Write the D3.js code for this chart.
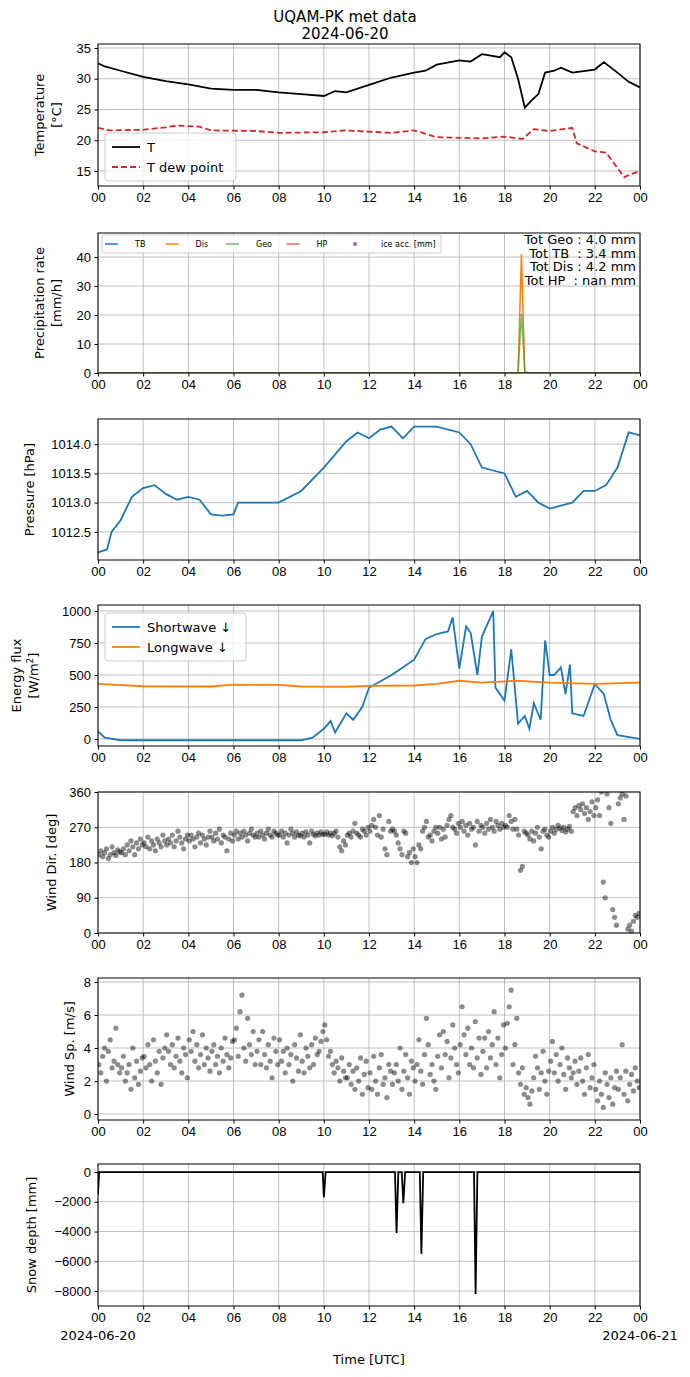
<!DOCTYPE html>
<html><head><meta charset="utf-8">
<script src="https://cdn.jsdelivr.net/npm/d3@7"></script>
<style>body{margin:0;background:#fff}svg{font-family:"DejaVu Sans",sans-serif}</style>
</head><body><svg id="fig" width="690" height="1377"></svg>
<script>
// hours since 2024-06-20 00:00 UTC
const tempT = [[0,32.5],[0.3,32],[1,31.3],[2,30.3],[3,29.6],[4,29.1],[5,28.4],[6,28.2],[7,28.2],[8,27.8],[9,27.5],[10,27.2],[10.5,28],[11,27.8],[12,29],[13,30.2],[14,31],[14.5,31.3],[15,32.3],[16,33],[16.5,32.8],[17,34],[17.8,33.5],[18,34.3],[18.3,33.5],[18.6,30],[18.9,25.3],[19.2,26.5],[19.5,27.5],[19.8,31],[20.2,31.3],[20.5,31.8],[21,31],[22,31.5],[22.4,32.7],[23,31],[23.5,29.5],[24,28.6]];
const tempTd = [[0,22],[0.5,21.6],[2,21.7],[3,22.1],[3.5,22.4],[4.5,22.2],[5,21.6],[7,21.5],[8,21.2],[10,21.3],[11,21.6],[13,21.2],[14,21.6],[15,20.5],[17,20.3],[18,20.6],[18.8,20.2],[19.3,21.8],[20,21.5],[21,22],[21.2,19.5],[22,18.2],[22.5,18],[23,15.5],[23.3,14],[23.6,14.5],[24,15]];
const precipTB = [[0,0],[24,0]];
const precipDis = [[0,0],[18.6,0],[18.75,41],[18.9,0],[24,0]];
const precipGeo = [[0,0],[18.6,0],[18.75,20.5],[18.9,0.5],[19.1,0],[24,0]];
const precipTotals = ["Tot Geo : 4.0 mm","Tot TB  : 3.4 mm","Tot Dis : 4.2 mm","Tot HP  : nan mm"];
const pressure = [[0,1012.15],[0.4,1012.2],[0.6,1012.5],[1,1012.7],[1.5,1013.1],[2,1013.25],[2.5,1013.3],[3,1013.15],[3.5,1013.05],[4,1013.1],[4.5,1013.05],[5,1012.8],[5.5,1012.78],[6,1012.8],[6.2,1013.0],[7,1013.0],[8,1013.0],[9,1013.2],[10,1013.6],[11,1014.05],[11.5,1014.2],[12,1014.1],[12.5,1014.25],[13,1014.3],[13.5,1014.1],[14,1014.3],[15,1014.3],[16,1014.2],[16.5,1014.0],[17,1013.6],[18,1013.5],[18.5,1013.1],[19,1013.2],[19.5,1013.0],[20,1012.9],[21,1013.0],[21.5,1013.2],[22,1013.2],[22.5,1013.3],[23,1013.6],[23.5,1014.2],[24,1014.15]];
const shortwave = [[0,60],[0.3,10],[1,-10],[9,-10],[9.5,10],[10,80],[10.3,140],[10.5,50],[11,200],[11.3,150],[11.7,250],[12,400],[13,500],[14,620],[14.5,780],[15,820],[15.5,840],[15.7,950],[16,550],[16.3,880],[16.5,830],[16.8,500],[17,800],[17.5,1000],[17.6,400],[18,300],[18.3,700],[18.6,120],[18.9,180],[19.1,80],[19.3,280],[19.6,150],[19.8,770],[20,500],[20.2,500],[20.5,560],[20.7,350],[20.9,580],[21,200],[21.5,180],[22,430],[22.4,350],[22.7,150],[23,30],[24,0]];
const longwave = [[0,430],[2,412],[5,410],[6,425],[8,422],[9,410],[11,408],[12,415],[14,418],[15,430],[16,455],[17,440],[18.5,455],[20,440],[22,430],[24,440]];
const windDir = [
[200,210,195,205,215,190,200,220,205,198,212,207],[205,215,200,225,210,235,220,200,230,215,240,225],
[230,220,245,215,235,225,210,240,230,220,250,235],[225,240,230,250,220,235,260,245,230,215,240,250],
[235,250,240,220,245,255,230,250,240,225,245,260],[245,235,255,240,265,230,250,245,210,240,255,235],
[250,260,240,255,245,260,250,235,255,265,250,245],[255,245,260,250,240,255,265,250,245,260,255,250],
[250,260,245,255,230,250,265,255,245,258,250,248],[255,245,258,250,230,260,252,248,256,250,258,252],
[252,258,250,255,248,255,260,245,220,210,235,225],[250,255,245,260,280,255,250,245,265,260,250,270],
[260,275,290,270,250,300,245,265,215,200,285,260],[265,260,250,230,215,200,260,255,195,205,180,215],
[195,180,225,215,260,270,285,245,250,235,260,270],[255,270,240,265,245,275,290,300,270,265,255,280],
[270,285,260,275,250,280,265,270,225,285,260,275],[270,255,280,265,290,270,260,285,275,265,280,270],
[275,270,300,285,265,290,265,250,160,170,260,255],[250,240,260,235,255,270,245,215,260,265,250,245],
[260,270,255,265,275,268,262,270,258,265,272,260],[310,320,300,325,315,330,305,320,290,310,335,300],
[320,340,300,360,130,90,355,320,280,60,40,20],[330,345,355,290,350,10,20,5,30,45,40,50]];
const windSp = [
[3,2.5,3.5,4,2,3.8,4.5,2.8,3.2,5.2,3,2.5],[2.8,3.5,2,2.5,3,1.5,4,2.2,3.2,1.8,2.6,3.4],
[3.5,2.8,4.2,3,2,4.5,3.2,2.5,3.8,1.8,3.4,4],[4.8,3.8,3,4.2,2.8,3.5,4.6,3.2,2.5,4,3.6,2.2],
[4.5,3.8,5,3.2,4.2,2.8,3.6,4.8,3,4,3.4,2.6],[3.8,4.2,3,3.5,2.5,4,3.2,4.6,3.6,2.8,3.4,4.4],
[4.5,5.2,3.5,6.2,7.2,4,3.2,5.8,4.2,3.6,5,3],[3.8,4.5,3,5,3.6,2.8,4.2,3.2,2.2,4.6,3.8,3],
[4.5,3.2,3.8,2.5,4,3,3.6,2,4.2,3.4,2.6,4.8],[3.2,2.5,4,3.5,2.8,4.2,3,4.6,3.6,3.8,4.4,5],
[5.4,4.5,3.5,3.8,3,2.5,3.2,2.8,2,3.4,2.6,2.2],[2.2,3,1.8,2.6,1.5,2.8,2,3.4,1.2,2.4,3.2,1.6],
[2.5,1.5,3.5,2,1.2,2.8,3.6,1.8,2.2,1,3,2.6],[1.8,2.5,3,2,4,1.5,2.6,3.6,2.2,1.2,3.2,2.8],
[2,3,4.5,2.6,1.8,3.6,5.8,4.2,2.4,3,2,1.5],[3.5,4.8,2.8,5,3.6,4.4,2.2,3.4,5.4,4,3,2.5],
[4.2,6.5,4.8,3.6,5.2,3,4,2.8,5.6,3.4,4.6,2.4],[3.8,4.6,2.8,5,3.4,4.2,6.2,3,4.6,2.2,3.6,5.4],
[4,5.5,6.5,7.5,3,4.2,5.8,2.5,1.8,2.8,1.2,1.6],[1,0.6,1.4,2.2,3.5,2.8,1.5,2.5,3.8,2,1.2,2.6],
[3.2,4.4,2.5,3.6,2,3,4,2.4,1.5,3.4,2.8,2.2],[2.5,3.2,1.8,2.6,3.4,2,1.2,2.8,3.6,1.6,2.2,3],
[1.5,0.8,2,1.2,0.4,2.5,1.8,1,2.2,0.6,1.6,2.6],[1.5,2.2,4.2,1.2,2.6,0.8,1.8,2.4,1.4,2.8,2,1.6]];
const snowDepth = [[0,-1500],[0.05,0],[9.95,0],[10.0,-1700],[10.08,0],[13.15,0],[13.22,-4100],[13.3,0],[13.45,0],[13.52,-2100],[13.6,0],[14.25,0],[14.32,-5500],[14.4,0],[16.65,0],[16.72,-8200],[16.8,0],[24,0]];
const xTickLabels = ["00","02","04","06","08","10","12","14","16","18","20","22","00"];

const svg = d3.select('#fig');
const L = 98, R = 640;
const x = d3.scaleLinear().domain([0, 24]).range([L, R]);

// title
svg.append('text').attr('x', 345).attr('y', 22).attr('text-anchor', 'middle').attr('font-size', 15).text('UQAM-PK met data');
svg.append('text').attr('x', 345).attr('y', 39).attr('text-anchor', 'middle').attr('font-size', 15).text('2024-06-20');

function panel(top, bottom, domain, ticks, fmt, ylabel, labelX) {
  const y = d3.scaleLinear().domain(domain).range([bottom, top]);
  const g = svg.append('g');
  // grid
  g.selectAll('.gx').data(d3.range(0, 25, 2)).enter().append('line')
    .attr('x1', d => x(d)).attr('x2', d => x(d)).attr('y1', top).attr('y2', bottom)
    .attr('stroke', '#b0b0b0').attr('stroke-width', 0.8);
  g.selectAll('.gy').data(ticks).enter().append('line')
    .attr('x1', L).attr('x2', R).attr('y1', d => y(d)).attr('y2', d => y(d))
    .attr('stroke', '#b0b0b0').attr('stroke-width', 0.8);
  const ax = g.append('g').attr('transform', `translate(0,${bottom})`)
    .call(d3.axisBottom(x).tickValues(d3.range(0, 25, 2)).tickFormat((d, i) => xTickLabels[i]).tickSize(3.5).tickPadding(3.5));
  const ay = g.append('g').attr('transform', `translate(${L},0)`)
    .call(d3.axisLeft(y).tickValues(ticks).tickFormat(fmt).tickSize(3.5).tickPadding(3.5));
  [ax, ay].forEach(a => { a.select('.domain').remove(); a.selectAll('text').attr('font-size', 13).attr('fill', '#000'); a.selectAll('line').attr('stroke', '#000'); });
  const cy = (top + bottom) / 2;
  const lt = svg.append('text').attr('transform', `translate(${labelX},${cy}) rotate(-90)`).attr('text-anchor', 'middle').attr('font-size', 13);
  ylabel.forEach((s, i) => lt.append('tspan').attr('x', 0).attr('dy', i ? 17 : (ylabel.length > 1 ? -8.5 : 0) + 4).html(s));
  const clip = 'c' + top;
  svg.append('clipPath').attr('id', clip).append('rect').attr('x', L).attr('y', top).attr('width', R - L).attr('height', bottom - top);
  const plot = svg.append('g').attr('clip-path', `url(#${clip})`);
  const frame = () => svg.append('rect').attr('x', L).attr('y', top).attr('width', R - L).attr('height', bottom - top).attr('fill', 'none').attr('stroke', '#000').attr('stroke-width', 1);
  return { y, plot, frame };
}
const line = (y) => d3.line().x(d => x(d[0])).y(d => y(d[1]));

// 1 temperature
let p = panel(44, 186, [12.56, 35.65], [15, 20, 25, 30, 35], d3.format('d'), ['Temperature', '[°C]'], 48);
p.plot.append('path').datum(tempT).attr('d', line(p.y)).attr('fill', 'none').attr('stroke', '#000').attr('stroke-width', 1.8);
p.plot.append('path').datum(tempTd).attr('d', line(p.y)).attr('fill', 'none').attr('stroke', '#d62728').attr('stroke-width', 1.8).attr('stroke-dasharray', '6,3');
p.frame();
function legend(x0, y0, w, items, fs, sp, lw) {
  svg.append('rect').attr('x', x0).attr('y', y0).attr('width', w).attr('height', items.length * sp + 8).attr('rx', 3)
    .attr('fill', '#fff').attr('fill-opacity', 0.8).attr('stroke', '#ccc');
  items.forEach((it, i) => {
    const yy = y0 + 4 + sp * (i + 0.5);
    svg.append('line').attr('x1', x0 + 7).attr('x2', x0 + 7 + lw).attr('y1', yy).attr('y2', yy)
      .attr('stroke', it.c).attr('stroke-width', 1.8).attr('stroke-dasharray', it.dash || null);
    svg.append('text').attr('x', x0 + 14 + lw).attr('y', yy + fs * 0.36).attr('font-size', fs).text(it.t);
  });
}
legend(105, 133, 131, [{ t: 'T', c: '#000' }, { t: 'T dew point', c: '#d62728', dash: '6,3' }], 13, 20, 28);

// 2 precipitation
p = panel(233, 373, [0, 48.3], [0, 10, 20, 30, 40], d3.format('d'), ['Precipitation rate', '[mm/h]'], 48);
p.plot.append('path').datum(precipTB).attr('d', line(p.y)).attr('fill', 'none').attr('stroke', '#1f77b4').attr('stroke-width', 1.5);
p.plot.append('path').datum(precipDis).attr('d', line(p.y)).attr('fill', 'none').attr('stroke', '#ff7f0e').attr('stroke-width', 1.5);
p.plot.append('path').datum(precipGeo).attr('d', line(p.y)).attr('fill', 'none').attr('stroke', '#2ca02c').attr('stroke-width', 1.5).attr('stroke-opacity', 0.7);
p.frame();
const pl = [{ t: 'TB', c: '#1f77b4' }, { t: 'Dis', c: '#ff7f0e' }, { t: 'Geo', c: '#2ca02c' }, { t: 'HP', c: '#d62728' }];
svg.append('rect').attr('x', 102).attr('y', 235).attr('width', 339).attr('height', 18).attr('rx', 2).attr('fill', '#fff').attr('fill-opacity', 0.8).attr('stroke', '#ccc');
pl.forEach((it, i) => {
  const x0 = 105 + i * 60.5;
  svg.append('line').attr('x1', x0).attr('x2', x0 + 13).attr('y1', 244).attr('y2', 244).attr('stroke', it.c).attr('stroke-width', 1.5).attr('stroke-opacity', it.t === 'HP' || it.t === 'Geo' ? 0.7 : 1);
  svg.append('text').attr('x', x0 + 30).attr('y', 247).attr('font-size', 8).text(it.t);
});
svg.append('circle').attr('cx', 355).attr('cy', 244).attr('r', 2).attr('fill', '#9467bd');
svg.append('text').attr('x', 381).attr('y', 247).attr('font-size', 8).text('ice acc. [mm]');
precipTotals.forEach((s, i) => svg.append('text').attr('x', 636).attr('y', 244 + i * 13.5).attr('text-anchor', 'end').attr('font-size', 13).style('white-space', 'pre').text(s));

// 3 pressure
p = panel(419, 560, [1012.02, 1014.43], [1012.5, 1013.0, 1013.5, 1014.0], d3.format('.1f'), ['Pressure [hPa]'], 30);
p.plot.append('path').datum(pressure).attr('d', line(p.y)).attr('fill', 'none').attr('stroke', '#1f77b4').attr('stroke-width', 1.8);
p.frame();

// 4 energy
p = panel(605, 746, [-55, 1047], [0, 250, 500, 750, 1000], d3.format('d'), ['Energy flux', '[W/m<tspan baseline-shift="super" font-size="9">2</tspan>]'], 25);
p.plot.append('path').datum(shortwave).attr('d', line(p.y)).attr('fill', 'none').attr('stroke', '#1f77b4').attr('stroke-width', 1.8);
p.plot.append('path').datum(longwave).attr('d', line(p.y)).attr('fill', 'none').attr('stroke', '#ff7f0e').attr('stroke-width', 1.8);
p.frame();
legend(105, 613, 141, [{ t: 'Shortwave  ↓', c: '#1f77b4' }, { t: 'Longwave  ↓', c: '#ff7f0e' }], 13, 20, 28);

// scatter helper: 12 readings per hour, evenly spaced
const flat = arr => arr.flatMap((row, h) => row.map((v, k) => [h + (k + 0.5) / 12, v]));
function scatter(pp, data) {
  pp.plot.selectAll(null).data(flat(data)).enter().append('circle')
    .attr('cx', d => x(d[0])).attr('cy', d => pp.y(d[1])).attr('r', 2.6).attr('fill', '#000').attr('fill-opacity', 0.45);
}
// 5 wind dir
p = panel(792, 933, [0, 360], [0, 90, 180, 270, 360], d3.format('d'), ['Wind Dir. [deg]'], 52);
scatter(p, windDir); p.frame();
// 6 wind speed
p = panel(978, 1120, [-0.36, 8.24], [0, 2, 4, 6, 8], d3.format('d'), ['Wind Sp. [m/s]'], 70);
scatter(p, windSp); p.frame();
// 7 snow
p = panel(1164, 1306, [-9005, 540], [-8000, -6000, -4000, -2000, 0], d => d3.format('d')(d).replace('-', '\u2212'), ['Snow depth [mm]'], 32);
p.plot.append('path').datum(snowDepth).attr('d', line(p.y)).attr('fill', 'none').attr('stroke', '#000').attr('stroke-width', 1.8);
p.frame();
svg.append('text').attr('x', x(0)).attr('y', 1340).attr('text-anchor', 'middle').attr('font-size', 13).text('2024-06-20');
svg.append('text').attr('x', x(24)).attr('y', 1340).attr('text-anchor', 'middle').attr('font-size', 13).text('2024-06-21');
svg.append('text').attr('x', 369).attr('y', 1364).attr('text-anchor', 'middle').attr('font-size', 13).text('Time [UTC]');
</script></body></html>
